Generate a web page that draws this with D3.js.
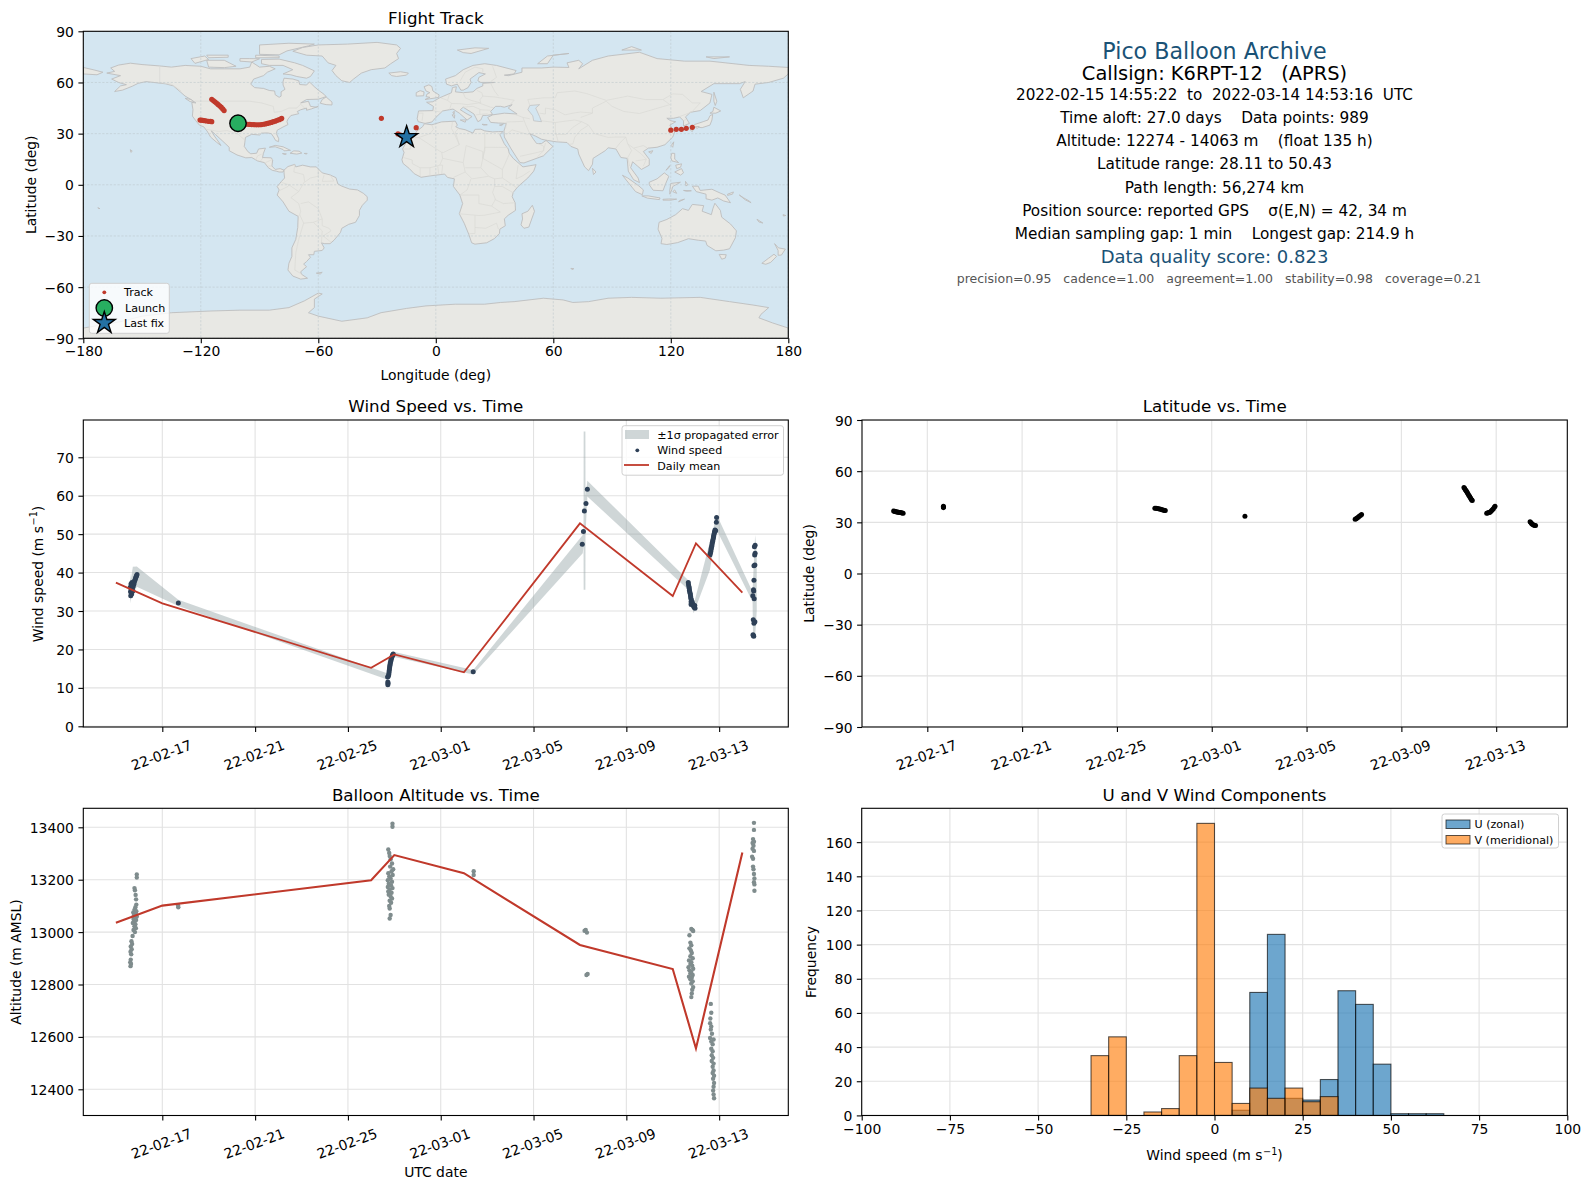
<!DOCTYPE html>
<html><head><meta charset="utf-8">
<script src="https://cdn.jsdelivr.net/npm/d3@7"></script>
<style>html,body{margin:0;padding:0;background:#fff}svg{display:block}text{font-family:"DejaVu Sans",sans-serif;fill:#000;white-space:pre}</style>
</head><body><div id="c"></div>
<script>
// ---------- map outlines (lon, lat) ----------
const landPolys = [
[[-168,65.5],[-164,66.5],[-166,68.5],[-162,70.2],[-156,71.3],[-150,70.5],[-141,69.7],[-135,69],[-128,70],[-120,69.5],[-115,68],[-108,68],[-100,68],[-95,69],[-94,72],[-90,69],[-85,69.5],[-82,68],[-86,66],[-88,64],[-93,62],[-94.5,59],[-92.5,57],[-88,56.5],[-85,55.3],[-82.3,55],[-82,52.8],[-80,51.3],[-79,52],[-79,54.5],[-77,56],[-78,58.5],[-78,60.5],[-77.5,62.5],[-73,62],[-70,61],[-69.5,58.8],[-66,58.5],[-64.5,60.3],[-62,57.5],[-60,55.5],[-57,53],[-56,51.7],[-60,50.2],[-66,50],[-69,48],[-65,49],[-64.5,47.5],[-64,46],[-61,45.5],[-60,46],[-63.5,44.5],[-66,43.7],[-66,45],[-69,44],[-70.7,43],[-70,41.7],[-74,40.6],[-75.5,38.5],[-76,37],[-75.5,35.3],[-78,33.9],[-81,32],[-81.4,30],[-80.2,27],[-80.3,25.3],[-81.8,26],[-82.8,28],[-84,30],[-86,30.4],[-89,30.3],[-90,29.2],[-94,29.6],[-97.2,27.8],[-97.5,25],[-97.8,22.5],[-96,19.5],[-94.5,18.2],[-91.5,18.5],[-90.5,21],[-87,21.5],[-88,18.5],[-88.5,16],[-84,15.8],[-83.3,14.5],[-83.7,11],[-82,9],[-79.5,9.5],[-77.5,8.6],[-78,7.5],[-80,7.5],[-81.5,8],[-83.5,8.5],[-85.5,10],[-87.5,13],[-91,14],[-94,16],[-97,15.8],[-101.5,17.5],[-105.5,20],[-105.5,22],[-109,25.8],[-112.5,29.5],[-114.7,31.7],[-113,28.5],[-110.5,24.5],[-109.7,23],[-112,25],[-115,28],[-116.8,31.5],[-118.5,34],[-120.7,35],[-122.5,37.5],[-124.3,40.3],[-124,44],[-124.6,48.3],[-122.5,48],[-125,50],[-128,52],[-130.5,54.5],[-134,58],[-138,59.2],[-144,60],[-148,60.5],[-152,59.5],[-155,57.8],[-160,55.5],[-164,54.7],[-161,58],[-158,58.7],[-162,60],[-165.5,62],[-161,64]],
[[-80,73.7],[-72,71.5],[-68,70],[-62,66.8],[-64,63.5],[-66,62.5],[-71,63.5],[-74,64.5],[-78,65],[-73,67.5],[-78,70],[-85,70],[-89,71],[-89,73.5]],
[[-117,73],[-108,73],[-102,69.5],[-108,68.7],[-116,69]],
[[-125,74],[-118,75.5],[-116,73.5],[-123,71.2]],
[[-90,76.5],[-80,76.2],[-76,78.5],[-65,81.5],[-62,82.5],[-75,83],[-90,82]],
[[-92,76],[-80,75.5],[-80,74.5],[-92,74.5]],
[[-117,76],[-106,76],[-106,74.8],[-116,74.5]],
[[-100,74],[-95,74],[-90,73.9],[-94,72],[-100,72.5]],
[[-59,47.8],[-56,47],[-53,46.8],[-53,48.5],[-56,51.5],[-58,50]],
[[-128,50.7],[-125,50],[-123.4,48.4],[-125.5,48.8]],
[[-73,78.3],[-68,80.5],[-60,82],[-45,82.5],[-30,83.5],[-20,82],[-18,80],[-20,77],[-19,74],[-23,71],[-26,68.5],[-33,67.5],[-38,65.5],[-42,62],[-44,60],[-48,61],[-51,64],[-53,67],[-51,70],[-55,71.5],[-58,75.5],[-66,76]],
[[-85,22],[-82,23.1],[-78,22.3],[-74.2,20.2],[-77.5,19.9],[-78,20.7],[-82,22.3]],
[[-74.4,18.5],[-72.5,19.9],[-69.8,19.7],[-68.4,18.6],[-71,18],[-74.4,18.5]],
[[-78.3,18.3],[-76.3,18.1],[-77,17.8]],
[[-67.2,18.4],[-65.7,18.4],[-66,18]],
[[-156,20.6],[-155,19.7],[-155.7,19]],
[[-77.5,8.6],[-75.5,10.7],[-72,12],[-71.5,10.5],[-68,11.5],[-64,10.5],[-61,10.5],[-58,7],[-54,5.8],[-51,4.2],[-50,0.5],[-48,-0.8],[-44,-2.5],[-40,-3],[-37,-5],[-35,-7],[-35,-9],[-37.5,-12],[-39,-15],[-39,-18],[-41,-22],[-44.5,-23.2],[-48,-25.5],[-48.7,-28],[-52,-32.5],[-54,-34.5],[-57,-34.5],[-58.4,-34],[-57,-37],[-58,-38.5],[-62,-39],[-62.3,-41],[-65,-41],[-64,-42.5],[-66,-45],[-67.5,-46.5],[-66,-48],[-69,-51],[-68.5,-52.5],[-65.5,-54.8],[-69,-55.3],[-73,-53.5],[-75.5,-50],[-75,-46],[-73.5,-42],[-73.5,-37],[-71.5,-32],[-70.5,-25],[-70.3,-18.5],[-75,-15.5],[-78,-10],[-81,-6],[-80,-3],[-81,-1],[-78.8,2],[-77.2,4],[-77.5,7]],
[[-61,-51.8],[-58,-51.3],[-59,-52.3]],
[[-5.8,35.8],[-2,35.2],[3,36.9],[10,37.3],[11,35],[10.2,34],[12,33],[15,32.3],[19,30.3],[20,32.5],[23,32.6],[25,31.6],[29,31],[32,31.2],[34.3,31.2],[32.7,29.5],[35,24],[37,21],[37.5,18.5],[39.5,15.5],[43,12],[44.5,10.5],[51.2,11.8],[50,8],[47,4],[42,-1],[39.5,-4.5],[39,-7],[40.5,-10.5],[40.7,-15],[37,-17.8],[35,-20],[35.5,-24],[32.7,-26],[32.5,-28.5],[30,-31.5],[26,-34],[20,-34.8],[18.3,-34],[17,-29.5],[14.5,-22.5],[12,-17],[13.7,-11],[12.3,-6],[9,-1],[9.5,3.5],[6,4.3],[4.5,6.3],[-3,5.2],[-7.5,4.4],[-11,6.5],[-13.5,9.5],[-16.7,12.5],[-17.3,14.7],[-16.2,19],[-17,21],[-14.5,26],[-11,28.8],[-9.7,31.5],[-6.8,34]],
[[-9,37],[-9.5,38.8],[-8.8,43.3],[-1.5,43.5],[-1.2,46],[-4.7,48.4],[-1.5,48.7],[2,51],[4,52],[8,54],[8.5,57],[10.5,57.5],[10,54.5],[14,54],[19,54.5],[21,56.5],[24,58],[24,59.5],[30,60],[23,60],[21.5,61],[22,63],[25.3,65],[22,65.8],[17.5,62],[18,60],[16.5,57],[14,55.5],[12.8,55.5],[11,59],[8,58],[5.5,59],[5,62],[10,64],[14,67.5],[19,70],[25,71],[31,70],[41,67],[40,65],[35,64.3],[37,64],[44,66],[44,68.5],[54,68.5],[60,69],[68,68.8],[67,71.5],[73,73],[75,71],[73,68],[80,73],[88,75.5],[104,77.7],[113,74],[127,72.5],[140,72.5],[160,70],[170,69.5],[180,68.8],[180,65],[177.5,62.5],[170,60],[163,59],[162,55],[157,51],[155.5,56],[158,60.5],[155,59.3],[142,59.3],[135.5,54.7],[141,53],[140,48],[135,43.5],[130,42.5],[127.5,39.8],[129.5,36],[126.5,34.5],[126.5,37.5],[124.5,39.8],[121.5,39],[118,39],[120,37.5],[122.5,37],[119.5,35],[122,31],[121,28],[117,23.5],[113,22],[108.5,21.5],[106,19.5],[109,15],[109,11.5],[105,9],[103,11],[100.5,13.5],[99.5,10],[103.3,4],[104,1.3],[101,3],[98.3,8],[97.7,15.5],[94.5,16],[92,21],[88,21.7],[86.5,20],[80.3,15.5],[80,12],[78,8.3],[76,10.5],[73,18],[72.5,21],[69,22.5],[67,24.8],[61.5,25.2],[57,26],[54,26.7],[51,28.5],[48,30],[50,26.5],[51.5,24.2],[54,24.2],[56.3,26],[59.8,22.5],[55,17],[45,12.8],[43,13],[41,16.5],[38.5,21],[35,28],[34.8,31.5],[36,36],[32,36.2],[28,36.6],[26.5,39.5],[29,41],[35,42],[41.5,41.5],[37,45],[39,47],[35,45.5],[33,46],[30.5,46],[28,43],[29,41.2],[26,40.7],[24,40.7],[23,38],[21.5,37],[19.5,41.5],[14,45.5],[12.5,44],[16,41.5],[18.5,40],[16,38],[12,42],[8.8,44.4],[3.5,43.3],[0,39.5],[-2,36.8],[-5.5,36]],
[[-180,68.8],[-175,67.5],[-170,66],[-173,64.5],[-180,65]],
[[114,-22],[113.5,-26],[115.5,-31.5],[115,-34.5],[118,-35],[123.5,-33.9],[129,-31.6],[134,-32.5],[137.8,-33],[138.5,-35.5],[143,-38.7],[147,-38.3],[150,-37.5],[153,-31],[153.5,-27],[150.5,-23],[146,-19],[145.3,-15],[142.5,-10.8],[141.5,-14],[140.7,-17.5],[136,-15.5],[136.8,-12.2],[131,-11.5],[129,-15],[126,-14],[122.5,-17.5],[118,-20.3]],
[[144.7,-40.8],[148.3,-41],[147.8,-43],[146,-43.6]],
[[173,-34.5],[175,-37],[178.5,-37.7],[176.5,-41.2],[174.8,-41.3],[174.8,-38.5]],
[[172.7,-40.7],[174,-42],[171,-45.5],[168.5,-46.6],[166.5,-46],[170,-43]],
[[130.8,34],[136,33.5],[140,35],[141,38],[141.4,41.3],[140,40.5],[139,38],[136.5,37],[132,35.3]],
[[130,33.5],[131.8,33.5],[131,31.2],[130,32]],
[[132.5,34],[134.5,34.2],[133.5,33]],
[[140,42],[143,42],[145.5,43.3],[142,45.5],[141.5,43]],
[[142,54.3],[143.5,49],[142.7,46.5],[142,49]],
[[120.2,23],[121.5,25.2],[121,22]],
[[108.7,19.3],[110.8,20],[110,18.4]],
[[120.5,18.5],[122,18.4],[122,15],[124,13],[120.6,14],[120,16]],
[[122,7.5],[125.5,9.5],[126.5,7],[125,5.7]],
[[122.5,11.5],[125.5,12.3],[125,10.3],[123,9.5]],
[[117.5,8.5],[119.5,11.3],[119,10]],
[[109,1.5],[113,3.5],[116.7,7],[119,5],[117.5,1],[116,-3.5],[111,-3.2],[109,0]],
[[95.3,5.6],[98,4],[103.5,-0.5],[106,-3],[105.5,-5.8],[102,-4],[98.5,1]],
[[105.2,-6.5],[108.5,-6.5],[114.5,-7.7],[114.2,-8.7],[108,-7.8]],
[[119.5,-5.5],[120.5,-3],[121,-1],[124.9,1.5],[120,0.8],[119.5,-3]],
[[121,-4],[123,-5],[122,-3]],
[[127.5,2],[128.7,0],[127.7,-0.7]],
[[126.5,-3.3],[130.5,-3.5],[128,-3.8]],
[[116,-8.5],[119,-8.3],[123,-8.4],[120,-9],[116,-9]],
[[124,-10],[127,-8.4],[124.5,-9.2]],
[[131,-0.8],[134,-0.8],[135,-3.3],[141,-2.6],[145.5,-5],[147.7,-6],[150.5,-10.5],[147,-9.5],[144,-7.7],[141,-9],[138,-8.2],[138,-5.5],[133,-4]],
[[149,-5.5],[152,-4.2],[151.5,-5.5],[149,-6.2]],
[[155,-6],[157,-7.5],[160,-9.5],[161,-10.5],[158,-8.8]],
[[164,-20.2],[167,-22.4],[165,-21.8]],
[[177.3,-17.5],[178.7,-18],[177.5,-18.3]],
[[-172.6,-13.5],[-171.5,-14],[-172,-13.8]],
[[49.3,-12],[50.4,-15.5],[47.5,-24.8],[45,-25.5],[43.5,-23.5],[44.3,-20],[44,-17],[47,-15.5]],
[[80,9.7],[81.8,7.5],[80.5,6]],
[[-24,65.5],[-18,66.3],[-14,65.5],[-15,64.3],[-20,63.5],[-22.5,64]],
[[-5.5,50],[1.4,51.2],[1.7,52.7],[-1.5,55],[-2,57.6],[-3.5,58.6],[-6,57.5],[-5,55],[-3,54],[-4.5,53.2],[-5,51.7],[-3,51.3]],
[[-10,52],[-6.2,52.2],[-6,54.5],[-8,55.2],[-10,54]],
[[11,79],[20,80.3],[27,80],[18,77],[14,77.5]],
[[52,71],[57,71],[60,76],[68,77],[57,75.5]],
[[95,79],[105,79],[100,81]],
[[138,75],[150,75],[142,74]],
[[12.5,38],[15.5,38],[15,36.7]],[[8.3,41],[9.7,41],[9.5,39]],[[8.7,42.6],[9.5,43],[9.3,41.5]],[[23.6,35.5],[26.3,35.2],[24.5,35]],[[32.5,35],[34.5,35.6],[33.5,34.7]],
[[69,-49],[70.5,-49.2],[69.5,-49.7]],
[[-180,-84],[-160,-80],[-150,-77],[-135,-75],[-115,-74],[-100,-73.5],[-85,-73.5],[-75,-72],[-67,-68],[-60,-63.5],[-58,-64],[-62,-67],[-62,-72],[-65,-75],[-60,-77],[-48,-80],[-35,-78],[-28,-75],[-15,-72.5],[-5,-71],[10,-70],[25,-70],[33,-69],[40,-68.5],[55,-66.5],[65,-67.5],[70,-69],[78,-68.5],[88,-66.5],[100,-66],[115,-66.5],[135,-66],[150,-68.5],[162,-70.5],[170,-72],[166,-76],[165,-78],[172,-81],[180,-84],[180,-90],[-180,-90]]
];
const inlandSeas = [[[50,37.5],[54,37],[53,40],[51,45],[53,47],[48,46.5],[47,44],[49.5,40.5]]];
const borderLines = [
[[-141,69.7],[-141,60],[-135,59],[-130,55]],[[-123,49],[-95,49],[-89,48],[-83,46],[-82.5,42.5],[-79,43],[-75,45],[-71,45],[-69,47.3],[-67,45]],[[-117,32.5],[-111,31.3],[-106.5,31.8],[-101,29.7],[-97.2,25.9]],[[-92,14.5],[-91,17],[-89,17.9]],[[-88.3,15.7],[-89.5,14]],[[-83.3,14.9],[-87,13]],[[-83.7,11],[-85.5,11]],
[[-72,12],[-72.5,7.5],[-67.5,6],[-67,2],[-70,-4],[-74,-7.5],[-70,-11],[-69,-15.5],[-69.5,-17.5],[-70.3,-18.5]],[[-60,8.5],[-60,5],[-64,4],[-67,1.5]],[[-78.8,1.4],[-75,0],[-70,-4]],[[-80,-3.5],[-75.5,-1],[-75,0]],[[-57,5.9],[-58,2],[-52,2.2],[-54,5.8]],[[-69,-11],[-65,-10],[-60,-14],[-58,-20],[-58,-24],[-54.5,-25.5],[-53.5,-27],[-57.5,-30],[-53.5,-33.7]],[[-69.5,-17.5],[-67.5,-22.5],[-62.5,-22],[-58,-20]],[[-67.5,-22.5],[-70,-32],[-71.5,-40],[-72,-50],[-68.5,-52.3]],[[-62.5,-22],[-58,-27],[-58.4,-34]],
[[-8.7,27.7],[-3,30],[-1.2,32.5],[-2,35]],[[-17,21],[-13,21],[-13,27.7],[-8.7,27.7],[3,19],[4,19],[12,23.5],[9.5,30],[8,33],[8.5,36.9]],[[12,23.5],[10,31],[11.5,33]],[[25,31.6],[25,20],[24,15.5],[23,10],[27,5],[30,3.5],[30,-1],[29,-4.5],[30.5,-8.5],[28.5,-12.5],[22,-11],[22,-6],[16,-6],[12.3,-6]],[[-16.5,16],[-12,14.5],[-12,12.4],[-8,10],[-3,10],[2,11.5],[3.5,11.5],[3,6.3]],[[3,19],[3.5,15.5],[2,11.5]],[[3.5,15.5],[14,13],[15,7.5],[9,4.3]],[[14,13],[15.5,23],[24,19.5],[24,15.5]],[[37,21.9],[25,22]],[[34,9],[36,14],[37.5,18]],[[34,9],[34,4],[41,-1.5]],[[34,4],[30,3.5]],[[30,-1],[34,-1],[40,-5]],[[30,-8.5],[34.5,-11],[40.5,-10.5]],[[22,-18],[12,-17]],[[22,-18],[25,-17.8],[33,-16],[28.5,-12.5]],[[20,-18],[20,-28.5],[17,-28.7]],[[32,-26],[31,-22.5],[25.5,-25.5],[20,-25]],[[15,7.5],[18.5,3.5],[27,5]],[[18,3.5],[16,-3],[12.3,-6]],[[42,11.5],[41,3.5],[44,5],[48,8]],[[-8,10],[-8,5]],[[-3,10],[-3,5.2]],[[1,11],[1.5,6.2]],[[23,10],[15,10]],[[25,22],[24,15.5],[34,9]],
[[-1.5,43.5],[3,42.5]],[[-9,42],[-6.5,42],[-7,37.5]],[[2.5,51],[6,49.5],[8,47.7],[7,44]],[[6,49.5],[7,53.3]],[[14,54],[15,51],[18,49.5],[23,48],[22.5,49.8],[24,52],[23.5,54],[21,55.3]],[[8,47.7],[13,47.5],[16,47],[22,48],[28,45.5],[29.5,45.3]],[[22.5,41.3],[26.5,41.7]],[[13.7,45.5],[19,46],[22.5,44.3],[22.5,41.3],[20.5,41]],[[28,43.7],[22.5,44]],[[24,52],[30,51.5],[40,49.6],[38,47]],[[28,59.5],[30,55],[32,52]],[[28,60.5],[31,63],[29,69.5]],[[20,69],[24,68],[24,66]],[[12.5,61],[15,66],[20,69]],
[[48,46.5],[47,50],[55,51],[61,51],[62,54],[71,55],[77,53.5],[87,49.5]],[[87,49.5],[98,52],[107,50],[116,50],[119.5,47],[112,44.5],[104,41.8],[96,43],[90,46],[87,49]],[[116,50],[121,53.3],[126,53],[131,48],[135,48],[131,43],[130.7,42.5]],[[87,49],[80,45],[80,42],[74,39.5]],[[53,42],[56,41.5],[56,45],[61,44],[66,41],[70,42],[74,42.7],[80,42]],[[54,37.5],[61,36.5],[66,37.3],[71,38],[74.5,37]],[[44.5,39.5],[48,38.7]],[[44.5,39.5],[46,35],[48,30]],[[61,36.5],[61,31.5],[62.5,25.3]],[[74.5,37],[70,33.7],[66.5,29.5],[61,29.5]],[[74.5,37],[78,35],[74,32],[71,28],[70,24],[68,23.7]],[[78,35],[81,30],[88,27.8],[92,28],[97,28],[98,24],[101,21.5],[106,23],[108,21.6]],[[92,21.5],[94,24.5],[97,28]],[[98,24],[100,20],[98,16],[99,11]],[[101,21.5],[105,18],[107.5,15],[106,11]],[[102,14],[105,14.5],[107.5,15]],[[124.5,40],[128,41.5],[130.5,42.5]],[[126.7,37.8],[128.5,38.5]],[[36,36.8],[44.8,37.2]],[[39,32.2],[47,29.5],[48,30]],[[36,29.5],[39,32.2]],[[43,16.7],[52,19],[55,20],[52,16.5]],[[55,20],[56,24.5]],[[52,24.2],[55,22.7],[55,20]],[[40,41.5],[44.5,39.5]],[[36,36.5],[35.7,33]]
];

// ---------- track (lon, lat) ----------
const trackLon = [-120.4,-119.8,-119,-118,-117,-116,-115,-114.4,-114.4,-113.6,-112.8,-112,-111.2,-110.4,-109.6,-108.8,-108.1,-101,-100,-99,-98,-97,-96,-95,-94,-93,-92,-91,-90,-89,-88,-87,-86,-85,-84,-83,-82,-81,-80,-79,-78.7,-27.8,-19.3,-18,-17,-16,-15,-10,120,122.8,125.4,127.9,131];
const trackLat = [38,37.9,37.8,37.6,37.4,37.2,37.2,37,50.1,49.4,48.7,47.9,47.1,46.3,45.5,44.5,43.5,36,35.9,35.8,35.7,35.6,35.5,35.4,35.3,35.3,35.2,35.2,35.2,35.3,35.5,35.7,36,36.3,36.6,37,37.3,37.8,38.2,38.7,39,39,29.8,29.2,28.7,28.3,28.11,33.5,32,32.5,32.5,33.1,33.7];
const launchFix = [-101,36.1];
const lastFix = [-14.9,27.9];

// ---------- wind speed: [day offset from 2022-02-17, m/s] ----------
const windPoints = [[-1.38,36.2],[-1.37,35],[-1.36,34],[-1.35,37],[-1.34,35.6],[-1.33,36.5],[-1.32,34.4],[-1.31,37.4],[-1.3,35.9],[-1.29,36.8],[-1.28,36.2],[-1.27,35.2],[-1.26,37],[-1.25,36.5],[-1.24,37.3],[-1.22,37],[-1.21,37.6],[-1.19,37.9],[-1.17,38.2],[-1.15,38.6],[-1.13,38.9],[-1.11,39.2],[-1.09,39.5],
[0.69,32.1],
[9.72,10.8],[9.73,11.2],[9.72,11.5],[9.71,12.8],[9.74,13],[9.76,13.5],[9.77,14],[9.78,14.5],[9.79,15],[9.8,15.4],[9.81,15.8],[9.82,16.2],[9.83,16.6],[9.85,17],[9.86,17.4],[9.88,17.8],[9.9,18.1],[9.92,18.4],[9.94,18.6],[9.95,18.8],
[13.4,14.2],
[18.1,47.4],[18.15,50.7],[18.19,56],[18.26,58],[18.32,61.7],
[22.67,37.4],[22.68,36.8],[22.7,36.3],[22.71,35.9],[22.72,35.4],[22.73,35],[22.75,34.6],[22.76,34.2],[22.77,33.8],[22.78,33.3],[22.8,32.9],[22.79,32.4],[22.8,31.9],[22.79,31.7],[22.83,32.5],[22.85,32],[22.87,31.7],[22.89,31.4],[22.91,31.1],[22.93,30.9],[22.96,30.7],[22.95,31.4],
[23.6,44.6],[23.62,45],[23.64,45.5],[23.65,46],[23.66,46.4],[23.68,46.8],[23.69,47.2],[23.7,47.7],[23.72,48.1],[23.73,48.5],[23.75,49],[23.76,49.4],[23.77,49.8],[23.79,50.2],[23.8,50.6],[23.82,51.1],[23.85,50.9],[23.88,53.1],[23.89,54.3],
[25.45,34],[25.52,46.7],[25.55,47.1],[25.53,44.6],[25.55,45],[25.5,41.8],[25.54,42],[25.5,38],[25.49,35.2],[25.51,33.2],[25.48,35.5],[25.47,27.7],[25.5,26.8],[25.54,27.2],[25.46,23.8],[25.49,23.4],[25.47,23.6]];
// band corners: [day offset, lower, upper]
const windBand = [[-1.39,32,39.9],[-1.36,33,38],[-1.27,34,41.5],[-1.1,36.3,41.6],[0.69,31.3,32.9],[9.69,12.2,13.8],[9.96,18.1,19.4],[13.4,13.5,14.65],[18.12,45,49.8],[18.155,47,52],[18.16,35.5,76.7],[18.235,35.5,76.7],[18.24,50,60],[18.32,59.8,63.9],[22.67,35.5,38],[22.9,29.4,31.6],[23.6,40.7,48],[23.9,51,55],[25.44,32.4,35],[25.46,23.3,38],[25.55,23.3,49.8],[25.62,30,45]];
// daily means
const meanDays = [-2,0,9,10,13,18,22,23,25];
const meanWind = [37.4,32,15.2,18.7,14.05,52.8,33.9,47.6,34.8];
const meanAlt = [13036,13101,13198,13294,13225,12951,12859,12556,13304];

// ---------- latitude ----------
const latPoints = [[-1.42,36.6],[-1.38,36.4],[-1.34,36.3],[-1.3,36.1],[-1.26,36],[-1.22,35.9],[-1.18,35.8],[-1.14,35.7],[-1.1,35.6],[-1.06,35.4],[-1.02,35.3],
[0.68,39],[0.68,38.6],[0.68,39.4],
[9.6,38.3],[9.65,38.2],[9.7,38.1],[9.75,38],[9.8,37.8],[9.85,37.6],[9.9,37.4],[9.95,37.2],[10,37],[10.04,36.9],
[13.4,33.5],
[18.05,31.8],[18.09,32.1],[18.13,32.6],[18.18,33],[18.22,33.5],[18.27,34],[18.32,34.6],
[22.64,50.43],[22.67,49.8],[22.7,49.1],[22.73,48.5],[22.76,47.9],[22.79,47.2],[22.82,46.5],[22.85,45.8],[22.88,45.1],[22.91,44.4],[22.94,43.7],[22.97,43.1],[22.99,42.8],
[23.6,35.3],[23.64,35.5],[23.68,35.7],[23.72,35.8],[23.76,36.2],[23.8,36.8],[23.84,37.4],[23.88,38],[23.92,38.8],[23.95,39.5],
[25.43,30.4],[25.47,29.8],[25.5,29.2],[25.54,28.8],[25.58,28.4],[25.62,28.2],[25.66,28.2]];

// ---------- altitude ----------
const altPoints = [[-1.1,13220],[-1.1,13208],[-1.2,13168],[-1.18,13160],[-1.15,13142],[-1.13,13125],[-1.12,13105],[-1.16,13095],[-1.2,13085],[-1.12,13080],[-1.25,13075],[-1.18,13072],[-1.14,13068],[-1.22,13064],[-1.1,13060],[-1.16,13055],[-1.24,13050],[-1.13,13046],[-1.2,13040],[-1.27,13035],[-1.16,13030],[-1.2,13022],[-1.14,13015],[-1.24,13008],[-1.18,13000],[-1.28,12985],[-1.33,12965],[-1.3,12955],[-1.36,12945],[-1.32,12935],[-1.37,12925],[-1.34,12915],[-1.36,12895],[-1.38,12885],[-1.35,12878],[-1.37,12870],
[0.68,13102],[0.69,13095],
[9.92,13414],[9.92,13402],[9.74,13315],[9.78,13302],[9.8,13290],[9.84,13278],[9.9,13262],[9.82,13250],[9.95,13240],[9.88,13232],[9.74,13225],[9.93,13218],[9.78,13212],[9.84,13205],[9.72,13198],[9.9,13192],[9.76,13185],[9.86,13178],[9.72,13172],[9.92,13168],[9.8,13162],[9.74,13155],[9.88,13150],[9.76,13143],[9.84,13136],[9.9,13128],[9.8,13120],[9.86,13112],[9.78,13100],[9.8,13090],[9.84,13065],[9.8,13052],
[13.42,13232],[13.42,13218],
[18.2,13005],[18.25,13008],[18.3,12998],[18.33,12840],[18.28,12836],
[22.8,13012],[22.85,13008],[22.88,13004],[22.72,12988],[22.76,12960],[22.8,12950],[22.72,12938],[22.78,12930],[22.82,12920],[22.76,12908],[22.86,12900],[22.7,12892],[22.8,12885],[22.76,12878],[22.84,12872],[22.68,12866],[22.88,12860],[22.72,12854],[22.8,12848],[22.76,12842],[22.86,12836],[22.7,12830],[22.82,12826],[22.76,12820],[22.86,12812],[22.8,12804],[22.88,12790],[22.84,12780],[22.82,12766],[22.8,12752],
[23.64,12726],[23.66,12692],[23.62,12670],[23.61,12652],[23.66,12640],[23.64,12628],[23.69,12612],[23.61,12596],[23.76,12590],[23.66,12582],[23.72,12572],[23.66,12555],[23.72,12545],[23.68,12530],[23.74,12520],[23.68,12508],[23.76,12498],[23.72,12486],[23.76,12472],[23.72,12462],[23.78,12452],[23.74,12440],[23.78,12424],[23.76,12410],[23.74,12395],[23.76,12380],[23.78,12366],
[25.5,13417],[25.5,13390],[25.46,13355],[25.44,13340],[25.5,13345],[25.48,13330],[25.44,13318],[25.5,13310],[25.42,13288],[25.46,13280],[25.46,13250],[25.48,13240],[25.5,13222],[25.52,13205],[25.5,13190],[25.52,13182],[25.52,13158]];

// ---------- histogram ----------
const histEdges = d3.range(-100,100,5);
const uCounts = [0,0,0,0,0,0,0,0,0,0,0,0,0,0,0,0,0,0,0,0,0,3,72,106,10,9,21,73,65,30,1,1,1,0,0,0,0,0,0,0];
const vCounts = [0,0,0,0,0,0,0,0,0,0,0,0,0,35,46,0,2,4,35,171,31,7,16,10,16,8,11,0,0,0,0,0,0,0,0,0,0,0,0,0];

// ---------- tick labels and legends ----------
const timeTickDays = [0,4,8,12,16,20,24];
const infoLines = [
 ["Pico Balloon Archive",22.2,"#1a5276",51,1214.5],
 ["Callsign: K6RPT-12   (APRS)",19.4,"#000",73.5,1214.5],
 ["2022-02-15 14:55:22  to  2022-03-14 14:53:16  UTC",15.2,"#000",94.5,1214.5],
 ["Time aloft: 27.0 days    Data points: 989",15.3,"#000",117.5,1214.5],
 ["Altitude: 12274 - 14063 m    (float 135 h)",15.3,"#000",140.5,1214.5],
 ["Latitude range: 28.11 to 50.43",15.3,"#000",163.5,1214.5],
 ["Path length: 56,274 km",15.3,"#000",187,1214.5],
 ["Position source: reported GPS    σ(E,N) = 42, 34 m",15.3,"#000",210,1214.5],
 ["Median sampling gap: 1 min    Longest gap: 214.9 h",15.3,"#000",233,1214.5],
 ["Data quality score: 0.823",18,"#1a5276",257,1214.5],
 ["precision=0.95   cadence=1.00   agreement=1.00   stability=0.98   coverage=0.21",12.5,"#555",278,1219]
];

// ---------- drawing ----------
const RED="#c0392b", NAVY="#2e4057", GREY="#7f8c8d", GRIDC="#e2e2e2", TICK=13.9, TITLE=16.7, LEG=11.1;
const svg=d3.select("#c").append("svg").attr("width",1590).attr("height",1189);
svg.append("rect").attr("width",1590).attr("height",1189).attr("fill","#fff");
const day=d=>new Date(Date.UTC(2022,1,17)+d*864e5);
let cid=0;
function panel(x0,x1,y0,y1,title,ty){
  const g=svg.append("g"); const id="cl"+(cid++);
  svg.append("clipPath").attr("id",id).append("rect").attr("x",x0).attr("y",y0).attr("width",x1-x0).attr("height",y1-y0);
  const plot=g.append("g").attr("clip-path",`url(#${id})`);
  const top=g.append("g");
  top.append("text").attr("x",(x0+x1)/2).attr("y",y0-(ty||7.5)).attr("text-anchor","middle").attr("font-size",TITLE).text(title);
  return {g,plot,top,x0,x1,y0,y1};
}
function frame(p){p.top.append("rect").attr("x",p.x0).attr("y",p.y0).attr("width",p.x1-p.x0).attr("height",p.y1-p.y0).attr("fill","none").attr("stroke","#000").attr("stroke-width",1.1);}
function styleAxis(a){a.selectAll("path.domain").remove();a.selectAll(".tick line").attr("stroke","#000").attr("stroke-width",1.1);a.selectAll(".tick text").attr("font-size",TICK).attr("font-family",'"DejaVu Sans"').attr("fill","#000");}
function yaxis(p,y,vals,fmt){const a=p.top.append("g").attr("transform",`translate(${p.x0},0)`).call(d3.axisLeft(y).tickValues(vals).tickFormat(fmt||d3.format("d")).tickSize(4.9).tickPadding(4.5));styleAxis(a);a.selectAll(".tick text").attr("dy","0.36em");}
function xaxis(p,x,vals,fmt){const a=p.top.append("g").attr("transform",`translate(0,${p.y1})`).call(d3.axisBottom(x).tickValues(vals).tickFormat(fmt||d3.format("d")).tickSize(4.9).tickPadding(4.5));styleAxis(a);a.selectAll(".tick text").attr("dy","0.95em").attr("y",4.9);return a;}
function timeAxis(p,x){const a=p.top.append("g").attr("transform",`translate(0,${p.y1})`).call(d3.axisBottom(x).tickValues(timeTickDays.map(day)).tickFormat(d3.utcFormat("%y-%m-%d")).tickSize(4.9));styleAxis(a);
  a.selectAll(".tick text").attr("y",0).attr("dy",0).attr("text-anchor","middle").attr("dominant-baseline","middle").attr("transform","translate(-1,29) rotate(-20)");}
function gridX(p,x,vals,o){p.plot.append("g").selectAll("line").data(vals).join("line").attr("x1",x).attr("x2",x).attr("y1",p.y0).attr("y2",p.y1).attr("stroke",(o&&o.c)||GRIDC).attr("stroke-width",(o&&o.w)||1.1).attr("stroke-dasharray",(o&&o.dash)||null);}
function gridY(p,y,vals,o){p.plot.append("g").selectAll("line").data(vals).join("line").attr("y1",y).attr("y2",y).attr("x1",p.x0).attr("x2",p.x1).attr("stroke",(o&&o.c)||GRIDC).attr("stroke-width",(o&&o.w)||1.1).attr("stroke-dasharray",(o&&o.dash)||null);}
function ylabel(x,y,t){return svg.append("text").attr("transform",`translate(${x},${y}) rotate(-90)`).attr("text-anchor","middle").attr("font-size",TICK).text(t);}
function xlabel(x,y,t){return svg.append("text").attr("x",x).attr("y",y).attr("text-anchor","middle").attr("font-size",TICK).text(t);}
function unitLabel(t,lead){t.text(lead+" (m s");t.append("tspan").attr("font-size",9.7).attr("dy",-5.5).attr("dx",.5).text("\u22121");t.append("tspan").attr("dy",5.5).text(")");}
function legendBox(x,y,w,h){svg.append("rect").attr("x",x).attr("y",y).attr("width",w).attr("height",h).attr("rx",2.5).attr("fill","#fff").attr("fill-opacity",.8).attr("stroke","#d0d0d0").attr("stroke-width",1);}
function legText(x,y,t){svg.append("text").attr("x",x).attr("y",y).attr("dy","0.36em").attr("font-size",LEG).text(t);}
const star=R=>d3.symbol(d3.symbolStar,R*R/0.8908)();

// --- map
{
 const p=panel(83.3,788.3,31.3,338.3,"Flight Track");
 const x=d3.scaleLinear().domain([-180,180]).range([p.x0,p.x1]);
 const y=d3.scaleLinear().domain([-90,90]).range([p.y1,p.y0]);
 const ln=d3.line().x(d=>x(d[0])).y(d=>y(d[1]));
 p.plot.append("rect").attr("x",p.x0).attr("y",p.y0).attr("width",p.x1-p.x0).attr("height",p.y1-p.y0).attr("fill","#d4e6f1");
 p.plot.append("g").selectAll("path").data(landPolys).join("path").attr("d",d=>ln(d)+"Z").attr("fill","#e8e8e4").attr("stroke","#bdbdbd").attr("stroke-width",.9).attr("stroke-linejoin","round");
 p.plot.append("g").selectAll("path").data(inlandSeas).join("path").attr("d",d=>ln(d)+"Z").attr("fill","#d4e6f1").attr("stroke","#bdbdbd").attr("stroke-width",.7);
 p.plot.append("g").selectAll("path").data(borderLines).join("path").attr("d",ln).attr("fill","none").attr("stroke","#dadad6").attr("stroke-width",.7);
 const xt=d3.range(-180,181,60), yt=d3.range(-90,91,30);
 gridX(p,x,xt,{c:"#bcc6c9",w:.55,dash:"2.2,1.6"}); gridY(p,y,yt,{c:"#bcc6c9",w:.55,dash:"2.2,1.6"});
 p.plot.append("g").selectAll("circle").data(trackLon).join("circle").attr("cx",d=>x(d)).attr("cy",(d,i)=>y(trackLat[i])).attr("r",2.6).attr("fill",RED);
 p.plot.append("circle").attr("cx",x(launchFix[0])).attr("cy",y(launchFix[1])).attr("r",8.2).attr("fill","#27ae60").attr("stroke","#000").attr("stroke-width",1.4);
 p.plot.append("path").attr("d",star(11.5)).attr("transform",`translate(${x(lastFix[0])},${y(lastFix[1])})`).attr("fill","#2471a3").attr("stroke","#000").attr("stroke-width",1.4);
 frame(p); yaxis(p,y,yt); xaxis(p,x,xt,d=>d<0?"\u2212"+(-d):d);
 ylabel(36,184.8,"Latitude (deg)"); xlabel(435.8,380,"Longitude (deg)");
 legendBox(89.3,283.3,80,50);
 svg.append("circle").attr("cx",104.3).attr("cy",292.3).attr("r",1.9).attr("fill",RED);
 svg.append("circle").attr("cx",104.3).attr("cy",308).attr("r",8.2).attr("fill","#27ae60").attr("stroke","#000").attr("stroke-width",1.4);
 svg.append("path").attr("d",star(11.5)).attr("transform","translate(104.3,323)").attr("fill","#2471a3").attr("stroke","#000").attr("stroke-width",1.4);
 legText(124,292.5,"Track"); legText(125,308,"Launch"); legText(124,323,"Last fix");
}
// --- info text
svg.append("g").selectAll("text").data(infoLines).join("text").attr("x",d=>d[4]).attr("y",d=>d[3]).attr("dy","0.36em").attr("text-anchor","middle").attr("font-size",d=>d[1]).style("fill",d=>d[2]).text(d=>d[0]);

// --- wind
const timeLeft=d3.scaleUtc().domain([day(-3.405),day(26.98)]);
{
 const p=panel(83.3,788.3,420,727,"Wind Speed vs. Time",8.5);
 const x=timeLeft.copy().range([p.x0,p.x1]);
 const y=d3.scaleLinear().domain([0,79.7]).range([726.3,420]);
 const yt=d3.range(0,71,10);
 gridX(p,x,timeTickDays.map(day)); gridY(p,y,yt);
 p.plot.append("path").datum(windBand).attr("d",d3.area().x(d=>x(day(d[0]))).y0(d=>y(d[1])).y1(d=>y(d[2]))).attr("fill","#95a5a6").attr("fill-opacity",.45);
 p.plot.append("g").selectAll("circle").data(windPoints).join("circle").attr("cx",d=>x(day(d[0]))).attr("cy",d=>y(d[1])).attr("r",2.5).attr("fill",NAVY);
 p.plot.append("path").attr("d",d3.line().x(d=>x(day(d))).y((d,i)=>y(meanWind[i]))(meanDays)).attr("fill","none").attr("stroke",RED).attr("stroke-width",1.8);
 frame(p); yaxis(p,y,yt); timeAxis(p,x);
 unitLabel(ylabel(42.5,574,""),"Wind speed");
 legendBox(622,425.7,161.5,49.5);
 svg.append("rect").attr("x",625).attr("y",430).attr("width",24).attr("height",9).attr("fill","#95a5a6").attr("fill-opacity",.45);
 svg.append("circle").attr("cx",637.3).attr("cy",450.3).attr("r",1.9).attr("fill",NAVY);
 svg.append("line").attr("x1",624).attr("x2",649).attr("y1",465).attr("y2",465).attr("stroke",RED).attr("stroke-width",1.8);
 legText(657.3,435,"\u00B11\u03C3 propagated error"); legText(657.3,450.3,"Wind speed"); legText(657.3,466,"Daily mean");
}
// --- latitude
{
 const p=panel(862,1567.3,420,727,"Latitude vs. Time",8.5);
 const x=d3.scaleUtc().domain([day(-2.755),day(27)]).range([p.x0,p.x1]);
 const y=d3.scaleLinear().domain([-90,90]).range([p.y1,p.y0]);
 const yt=d3.range(-90,91,30);
 gridX(p,x,timeTickDays.map(day)); gridY(p,y,yt);
 p.plot.append("g").selectAll("circle").data(latPoints).join("circle").attr("cx",d=>x(day(d[0]))).attr("cy",d=>y(d[1])).attr("r",2.5).attr("fill","#000");
 frame(p); yaxis(p,y,yt,d=>d<0?"\u2212"+(-d):d); timeAxis(p,x);
 ylabel(814,573.5,"Latitude (deg)");
}
// --- altitude
{
 const p=panel(83.3,788.3,808.3,1115.5,"Balloon Altitude vs. Time");
 const x=timeLeft.copy().range([p.x0,p.x1]);
 const y=d3.scaleLinear().domain([12400,13400]).range([1089.3,827.3]);
 const yt=d3.range(12400,13401,200);
 gridX(p,x,timeTickDays.map(day)); gridY(p,y,yt);
 p.plot.append("g").selectAll("circle").data(altPoints).join("circle").attr("cx",d=>x(day(d[0]))).attr("cy",d=>y(d[1])).attr("r",2.2).attr("fill",GREY);
 p.plot.append("path").attr("d",d3.line().x(d=>x(day(d))).y((d,i)=>y(meanAlt[i]))(meanDays)).attr("fill","none").attr("stroke",RED).attr("stroke-width",2.1);
 frame(p); yaxis(p,y,yt); timeAxis(p,x);
 ylabel(21,962,"Altitude (m AMSL)"); xlabel(435.8,1177,"UTC date");
}
// --- histogram
{
 const p=panel(861.7,1567.3,808.3,1115.5,"U and V Wind Components");
 const x=d3.scaleLinear().domain([-100,100]).range([p.x0,p.x1]);
 const y=d3.scaleLinear().domain([0,180]).range([1115.4,808]);
 const xt=d3.range(-100,101,25), yt=d3.range(0,161,20);
 gridX(p,x,xt); gridY(p,y,yt);
 const bars=(c,col)=>p.plot.append("g").selectAll("rect").data(histEdges).join("rect").attr("x",d=>x(d)).attr("width",d=>x(d+5)-x(d)).attr("y",(d,i)=>y(c[i])).attr("height",(d,i)=>y(0)-y(c[i])).attr("fill",col).attr("fill-opacity",.65).attr("stroke","#000").attr("stroke-opacity",.65).attr("stroke-width",1.1);
 bars(uCounts,"#1f77b4"); bars(vCounts,"#ff7f0e");
 frame(p); yaxis(p,y,yt); xaxis(p,x,xt,d=>d<0?"\u2212"+(-d):d);
 ylabel(816,962,"Frequency"); unitLabel(xlabel(1214.5,1160,""),"Wind speed");
 legendBox(1442,814,116.5,34);
 svg.append("rect").attr("x",1446).attr("y",820).attr("width",24).attr("height",8.5).attr("fill","#1f77b4").attr("fill-opacity",.65).attr("stroke","#000").attr("stroke-opacity",.65);
 svg.append("rect").attr("x",1446).attr("y",835.5).attr("width",24).attr("height",8.5).attr("fill","#ff7f0e").attr("fill-opacity",.65).attr("stroke","#000").attr("stroke-opacity",.65);
 legText(1474.5,824.5,"U (zonal)"); legText(1474.5,839.8,"V (meridional)");
}
</script></body></html>
